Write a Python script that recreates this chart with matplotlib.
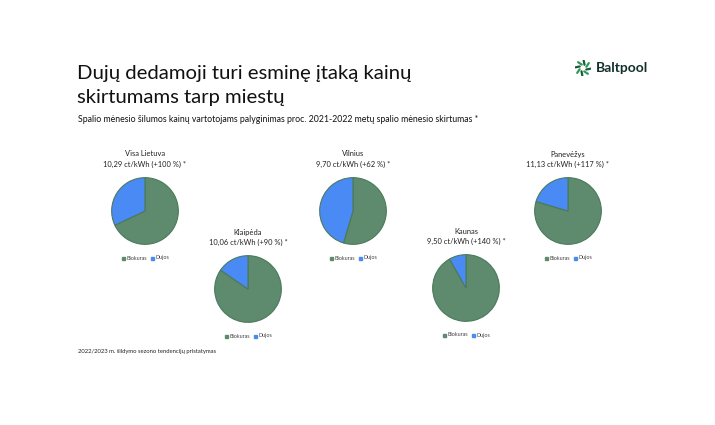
import matplotlib
matplotlib.use("Agg")
import matplotlib.pyplot as plt
import numpy as np

W, H = 715, 425

categories = ["Biokuras", "Dujos"]
cities = ["Visa Lietuva", "Klaipėda", "Vilnius", "Kaunas", "Panevėžys"]
labels = ["10,29 ct/kWh (+100 %) *", "10,06 ct/kWh (+90 %) *", "9,70 ct/kWh (+62 %) *",
          "9,50 ct/kWh (+140 %) *", "11,13 ct/kWh (+117 %) *"]
biokuras = [68, 84.6, 54.6, 91.8, 79.6]
dujos = [32, 15.4, 45.4, 8.2, 20.4]

# layout (pixel centers, radius)
centers = [(145, 211), (248, 289), (353, 211), (466, 288), (568, 211)]
R = 34
colors = ["#5e8a6e", "#4a8af4"]

FONT = "Lato"
fig = plt.figure(figsize=(W / 100, H / 100), dpi=100)
fig.patch.set_facecolor("white")

def fx(x):
    return x / W

def fy(y):
    return 1 - y / H

fig.text(fx(77), fy(74), "Dujų dedamoji turi esminę įtaką kainų", fontsize=14.6,
         family=FONT, color="#111111", va="center", ha="left")
fig.text(fx(77), fy(97), "skirtumams tarp miestų", fontsize=14.6,
         family=FONT, color="#111111", va="center", ha="left")
fig.text(fx(78), fy(120), "Spalio mėnesio šilumos kainų vartotojams palyginimas proc. 2021-2022 metų spalio mėnesio skirtumas *",
         fontsize=6.3, family=FONT, color="#111111", va="center", ha="left")
fig.text(fx(78), fy(352), "2022/2023 m. šildymo sezono tendencijų pristatymas",
         fontsize=4.2, family=FONT, color="#222222", va="center", ha="left")

# logo
lax = fig.add_axes([fx(575), fy(76), 16 / W, 16 / H])
lax.set_xlim(-1, 1); lax.set_ylim(-1, 1); lax.axis("off")
for k in range(8):
    a = np.deg2rad(90 - k * 45 + 20)
    r0, r1 = 0.45, 0.95
    c = "#2f9a5a" if k % 2 == 0 else "#1d5a3a"
    lax.plot([r0 * np.cos(a), r1 * np.cos(a + 0.35)], [r0 * np.sin(a), r1 * np.sin(a + 0.35)],
             color=c, lw=1.6, solid_capstyle="round")
fig.text(fx(596), fy(68), "Baltpool", fontsize=10, family=FONT, weight="bold",
         color="#14302a", va="center", ha="left")

for i, city in enumerate(cities):
    cx, cy = centers[i]
    ax = fig.add_axes([fx(cx - R), fy(cy + R), 2 * R / W, 2 * R / H])
    vals = [biokuras[i], dujos[i]]
    wedges, _ = ax.pie(vals, colors=colors, startangle=90, counterclock=False,
                       wedgeprops=dict(linewidth=0.8, edgecolor="#4a7a5c"))
    ax.set_xlim(-1.02, 1.02); ax.set_ylim(-1.02, 1.02)
    ax.set_aspect("equal")
    fig.text(fx(cx), fy(cy - 57), city, fontsize=5.4, family=FONT, color="#222222",
             ha="center", va="center")
    fig.text(fx(cx), fy(cy - 47), labels[i], fontsize=5.4, family=FONT, color="#222222",
             ha="center", va="center")
    # legend
    lx = cx - 23
    ly = cy + 47
    for j, cat in enumerate(categories):
        off = lx + j * 29
        fig.patches.append(plt.Rectangle((fx(off), fy(ly + 1.5)), 3 / W, 3 / H,
                                         transform=fig.transFigure, color=colors[j]))
        fig.text(fx(off + 4.5), fy(ly + 1.5), cat, fontsize=3.9, family=FONT, color="#444444",
                 ha="left", va="baseline")

fig.savefig("out.png", dpi=100, facecolor="white")
